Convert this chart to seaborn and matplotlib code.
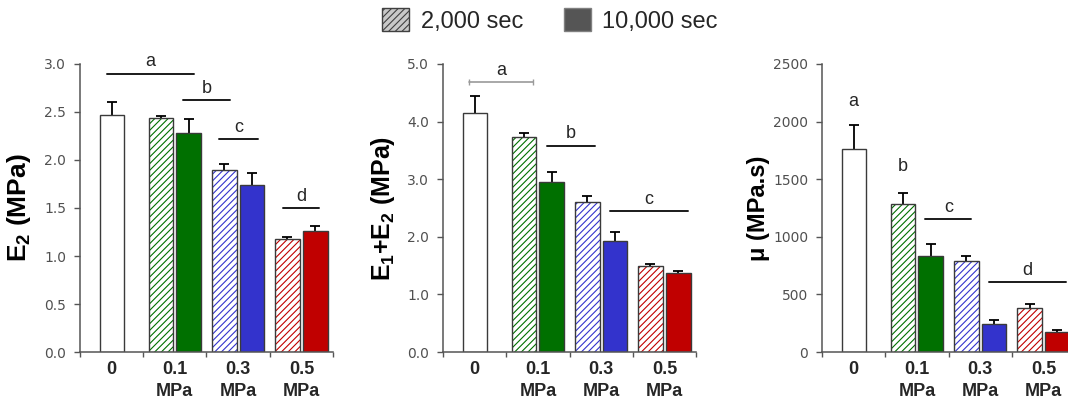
import numpy as np
import pandas as pd
import matplotlib
matplotlib.use("Agg")
import matplotlib.pyplot as plt
import seaborn as sns
from matplotlib.patches import Patch, Rectangle

# ---- data -------------------------------------------------------------
pressures = ["0", "0.1\nMPa", "0.3\nMPa", "0.5\nMPa"]
durations = ["2,000 sec", "10,000 sec"]

# E2 (MPa)
e2_ctrl, e2_ctrl_err = 2.47, 0.13
e2_short = [2.44, 1.90, 1.18]
e2_short_err = [0.02, 0.06, 0.02]
e2_long = [2.28, 1.74, 1.26]
e2_long_err = [0.15, 0.12, 0.05]

# E1+E2 (MPa)
e12_ctrl, e12_ctrl_err = 4.15, 0.29
e12_short = [3.73, 2.61, 1.49]
e12_short_err = [0.08, 0.10, 0.04]
e12_long = [2.95, 1.93, 1.37]
e12_long_err = [0.18, 0.16, 0.03]

# viscosity mu (MPa.s)
mu_ctrl, mu_ctrl_err = 1760, 210
mu_short = [1282, 786, 386]
mu_short_err = [96, 46, 35]
mu_long = [832, 247, 174]
mu_long_err = [102, 35, 21]

# significance groups: (letter, line start, line end, height); no line when start is None
sig_e2 = [("a", -0.07, 1.30, 2.90), ("b", 1.13, 1.87, 2.625),
          ("c", 1.70, 2.31, 2.22), ("d", 2.71, 3.28, 1.50)]
sig_e12 = [("a", -0.087, 0.93, 4.68), ("b", 1.146, 1.91, 3.58),
           ("c", 2.14, 3.37, 2.45)]
sig_mu = [("a", None, 0.0, 2174), ("b", None, 0.78, 1609),
          ("c", 1.135, 1.86, 1154), ("d", 2.14, 3.36, 609)]

# ---- style ------------------------------------------------------------
sns.set_theme(style="ticks")
plt.rcParams["font.family"] = ["Liberation Sans", "DejaVu Sans"]
plt.rcParams["hatch.linewidth"] = 0.8
plt.rcParams["mathtext.fontset"] = "custom"
plt.rcParams["mathtext.rm"] = "Liberation Sans:bold"
plt.rcParams["mathtext.bf"] = "Liberation Sans:bold"

group_colors = ["white", "#007000", "#3333CC", "#C00000"]
edge_color = "#3a3a3a"
spine_color = "#555555"
text_color = "#262626"


def build_frame(ctrl, ctrl_err, short, short_err, long_, long_err):
    rows = [{"pressure": pressures[0], "duration": "control",
             "value": ctrl, "err": ctrl_err}]
    for i, p in enumerate(pressures[1:]):
        rows.append({"pressure": p, "duration": durations[0],
                     "value": short[i], "err": short_err[i]})
        rows.append({"pressure": p, "duration": durations[1],
                     "value": long_[i], "err": long_err[i]})
    return pd.DataFrame(rows)


def draw_panel(ax, df, top, step, fmt, ylabel, label_size, label_x, sig,
               bracket_first=False):
    ctrl = df[df.duration == "control"]
    treated = df[df.duration != "control"]
    sns.barplot(data=ctrl, x="pressure", y="value", order=pressures,
                width=0.38, errorbar=None, color="white", ax=ax)
    sns.barplot(data=treated, x="pressure", y="value", hue="duration",
                hue_order=durations, order=pressures, width=0.88, gap=0.11,
                dodge=True, errorbar=None, palette=["#999999", "#999999"],
                legend=False, ax=ax)

    levels = ["control"] + durations
    for ci, cont in enumerate(list(ax.containers)):
        level = levels[ci]
        for p in cont.patches:
            xc = p.get_x() + p.get_width() / 2
            gi = int(round(xc))
            col = group_colors[gi]
            row = df[(df.pressure == pressures[gi]) & (df.duration == level)]
            err = row["err"].iloc[0]
            if level == durations[0]:
                p.set_facecolor("white")
                p.set_edgecolor(col)
                p.set_hatch("/////")
                p.set_linewidth(0)
                ax.add_patch(Rectangle(p.get_xy(), p.get_width(), p.get_height(),
                                       fill=False, ec=edge_color, lw=1.0,
                                       zorder=p.get_zorder() + 0.1))
            else:
                p.set_facecolor(col)
                p.set_edgecolor(edge_color)
                p.set_linewidth(1.0)
            # upper half of the error bar only, capped at its top
            h = p.get_height()
            ax.vlines(xc, h, h + err, color="black", lw=1.3, zorder=0.9)
            ax.plot([xc], [h + err], marker="_", markersize=7,
                    markeredgewidth=1.3, color="black", zorder=0.9)

    for k, (letter, x0, x1, y) in enumerate(sig):
        if x0 is None:
            ax.text(x1, y, letter, ha="center", va="center", fontsize=13,
                    color=text_color)
            continue
        if bracket_first and k == 0:
            ax.plot([x0, x1], [y, y], color="#9a9a9a", lw=1.2,
                    marker="|", markersize=4, markeredgewidth=1.0)
        else:
            ax.plot([x0, x1], [y, y], color="#1a1a1a", lw=1.4)
        ax.annotate(letter, ((x0 + x1) / 2, y), xytext=(0, 8.5),
                    textcoords="offset points", ha="center", va="center",
                    fontsize=13, color=text_color)

    ax.set_xlim(-0.5, 3.5)
    ax.set_ylim(0, top)
    ax.set_xticks(np.arange(-0.5, 4.0, 1.0))
    ax.set_xticklabels([])
    ax.set_xticks(range(len(pressures)), minor=True)
    ax.set_xticklabels(pressures, minor=True, fontsize=13, fontweight="bold",
                       color=text_color, linespacing=1.35)
    ax.tick_params(axis="x", which="minor", length=0, pad=6.5)
    ax.tick_params(axis="x", which="major", length=3.5, width=1.0,
                   color=spine_color, direction="out")
    yt = np.arange(0, top + step / 2, step)
    ax.set_yticks(yt)
    ax.set_yticklabels([fmt.format(v) for v in yt], fontsize=10,
                       color="#505050", family="DejaVu Sans")
    ax.tick_params(axis="y", length=4, width=1.0, color=spine_color, pad=6)
    ax.set_xlabel("")
    ax.set_ylabel(ylabel, fontsize=label_size, fontweight="bold", color="black")
    ax.yaxis.set_label_coords(label_x, 0.5)
    sns.despine(ax=ax)
    for s in ("left", "bottom"):
        ax.spines[s].set_color(spine_color)
        ax.spines[s].set_linewidth(1.1)


fig = plt.figure(figsize=(10.68, 4.04), dpi=100)
bottom, height, width = 0.1287, 0.7129, 0.2369
ax1 = fig.add_axes([0.0749, bottom, width, height])
ax2 = fig.add_axes([0.4148, bottom, width, height])
ax3 = fig.add_axes([0.7697, bottom, width, height])

draw_panel(ax1, build_frame(e2_ctrl, e2_ctrl_err, e2_short, e2_short_err,
                            e2_long, e2_long_err),
           3.0, 0.5, "{:.1f}", r"$\mathbf{E_2}$ (MPa)", 19, -0.186, sig_e2)
draw_panel(ax2, build_frame(e12_ctrl, e12_ctrl_err, e12_short, e12_short_err,
                            e12_long, e12_long_err),
           5.0, 1.0, "{:.1f}", r"$\mathbf{E_1{+}E_2}$ (MPa)", 18, -0.182,
           sig_e12, bracket_first=True)
draw_panel(ax3, build_frame(mu_ctrl, mu_ctrl_err, mu_short, mu_short_err,
                            mu_long, mu_long_err),
           2500, 500, "{:.0f}", "\u03bc (MPa.s)", 17, -0.205, sig_mu)

handles = [Patch(facecolor="#c8c8c8", edgecolor="#404040", hatch="/////", lw=1.0),
           Patch(facecolor="#555555", edgecolor="#808080", lw=1.0)]
fig.legend(handles, durations, loc="center", bbox_to_anchor=(0.515, 0.95),
           ncol=2, frameon=False, fontsize=17, handlelength=1.15,
           handleheight=1.15, handletextpad=0.5, columnspacing=1.7)

fig.savefig("out.png", dpi=100)
